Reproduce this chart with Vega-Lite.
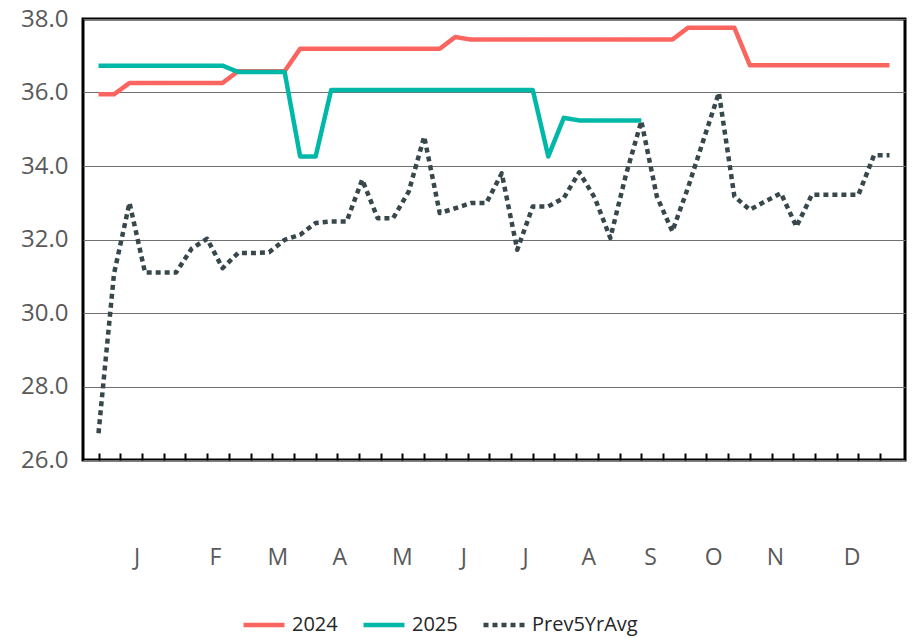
{
  "$schema": "https://vega.github.io/schema/vega-lite/v6.json",
  "width": 822,
  "height": 441,
  "autosize": {"type": "none"},
  "padding": {"left": 83, "top": 19, "right": 9, "bottom": 179},
  "background": "white",
  "config": {
    "font": "Open Sans",
    "view": {"stroke": "#000000", "strokeWidth": 3},
    "legend": {
      "orient": "none",
      "legendX": 158,
      "legendY": 583,
      "direction": "horizontal",
      "symbolType": "stroke",
      "symbolSize": 1681,
      "symbolStrokeWidth": 4.5,
      "labelFontSize": 20,
      "labelColor": "#262626",
      "labelOffset": 5,
      "columnPadding": 16,
      "title": null
    }
  },
  "data": {
    "values": [
      {"week": 1, "series": "2024", "value": 35.95},
      {"week": 2, "series": "2024", "value": 35.95},
      {"week": 3, "series": "2024", "value": 36.26},
      {"week": 4, "series": "2024", "value": 36.26},
      {"week": 5, "series": "2024", "value": 36.26},
      {"week": 6, "series": "2024", "value": 36.26},
      {"week": 7, "series": "2024", "value": 36.26},
      {"week": 8, "series": "2024", "value": 36.26},
      {"week": 9, "series": "2024", "value": 36.26},
      {"week": 10, "series": "2024", "value": 36.58},
      {"week": 11, "series": "2024", "value": 36.58},
      {"week": 12, "series": "2024", "value": 36.58},
      {"week": 13, "series": "2024", "value": 36.58},
      {"week": 14, "series": "2024", "value": 37.19},
      {"week": 15, "series": "2024", "value": 37.19},
      {"week": 16, "series": "2024", "value": 37.19},
      {"week": 17, "series": "2024", "value": 37.19},
      {"week": 18, "series": "2024", "value": 37.19},
      {"week": 19, "series": "2024", "value": 37.19},
      {"week": 20, "series": "2024", "value": 37.19},
      {"week": 21, "series": "2024", "value": 37.19},
      {"week": 22, "series": "2024", "value": 37.19},
      {"week": 23, "series": "2024", "value": 37.19},
      {"week": 24, "series": "2024", "value": 37.51},
      {"week": 25, "series": "2024", "value": 37.44},
      {"week": 26, "series": "2024", "value": 37.44},
      {"week": 27, "series": "2024", "value": 37.44},
      {"week": 28, "series": "2024", "value": 37.44},
      {"week": 29, "series": "2024", "value": 37.44},
      {"week": 30, "series": "2024", "value": 37.44},
      {"week": 31, "series": "2024", "value": 37.44},
      {"week": 32, "series": "2024", "value": 37.44},
      {"week": 33, "series": "2024", "value": 37.44},
      {"week": 34, "series": "2024", "value": 37.44},
      {"week": 35, "series": "2024", "value": 37.44},
      {"week": 36, "series": "2024", "value": 37.44},
      {"week": 37, "series": "2024", "value": 37.44},
      {"week": 38, "series": "2024", "value": 37.44},
      {"week": 39, "series": "2024", "value": 37.76},
      {"week": 40, "series": "2024", "value": 37.76},
      {"week": 41, "series": "2024", "value": 37.76},
      {"week": 42, "series": "2024", "value": 37.76},
      {"week": 43, "series": "2024", "value": 36.74},
      {"week": 44, "series": "2024", "value": 36.74},
      {"week": 45, "series": "2024", "value": 36.74},
      {"week": 46, "series": "2024", "value": 36.74},
      {"week": 47, "series": "2024", "value": 36.74},
      {"week": 48, "series": "2024", "value": 36.74},
      {"week": 49, "series": "2024", "value": 36.74},
      {"week": 50, "series": "2024", "value": 36.74},
      {"week": 51, "series": "2024", "value": 36.74},
      {"week": 52, "series": "2024", "value": 36.74},
      {"week": 1, "series": "2025", "value": 36.73},
      {"week": 2, "series": "2025", "value": 36.73},
      {"week": 3, "series": "2025", "value": 36.73},
      {"week": 4, "series": "2025", "value": 36.73},
      {"week": 5, "series": "2025", "value": 36.73},
      {"week": 6, "series": "2025", "value": 36.73},
      {"week": 7, "series": "2025", "value": 36.73},
      {"week": 8, "series": "2025", "value": 36.73},
      {"week": 9, "series": "2025", "value": 36.73},
      {"week": 10, "series": "2025", "value": 36.56},
      {"week": 11, "series": "2025", "value": 36.56},
      {"week": 12, "series": "2025", "value": 36.56},
      {"week": 13, "series": "2025", "value": 36.56},
      {"week": 14, "series": "2025", "value": 34.26},
      {"week": 15, "series": "2025", "value": 34.26},
      {"week": 16, "series": "2025", "value": 36.07},
      {"week": 17, "series": "2025", "value": 36.07},
      {"week": 18, "series": "2025", "value": 36.07},
      {"week": 19, "series": "2025", "value": 36.07},
      {"week": 20, "series": "2025", "value": 36.07},
      {"week": 21, "series": "2025", "value": 36.07},
      {"week": 22, "series": "2025", "value": 36.07},
      {"week": 23, "series": "2025", "value": 36.07},
      {"week": 24, "series": "2025", "value": 36.07},
      {"week": 25, "series": "2025", "value": 36.07},
      {"week": 26, "series": "2025", "value": 36.07},
      {"week": 27, "series": "2025", "value": 36.07},
      {"week": 28, "series": "2025", "value": 36.07},
      {"week": 29, "series": "2025", "value": 36.07},
      {"week": 30, "series": "2025", "value": 34.26},
      {"week": 31, "series": "2025", "value": 35.31},
      {"week": 32, "series": "2025", "value": 35.24},
      {"week": 33, "series": "2025", "value": 35.24},
      {"week": 34, "series": "2025", "value": 35.24},
      {"week": 35, "series": "2025", "value": 35.24},
      {"week": 36, "series": "2025", "value": 35.24},
      {"week": 1, "series": "Prev5YrAvg", "value": 26.73},
      {"week": 2, "series": "Prev5YrAvg", "value": 31.07},
      {"week": 3, "series": "Prev5YrAvg", "value": 33.0},
      {"week": 4, "series": "Prev5YrAvg", "value": 31.1},
      {"week": 5, "series": "Prev5YrAvg", "value": 31.1},
      {"week": 6, "series": "Prev5YrAvg", "value": 31.1},
      {"week": 7, "series": "Prev5YrAvg", "value": 31.75},
      {"week": 8, "series": "Prev5YrAvg", "value": 32.02},
      {"week": 9, "series": "Prev5YrAvg", "value": 31.22},
      {"week": 10, "series": "Prev5YrAvg", "value": 31.63},
      {"week": 11, "series": "Prev5YrAvg", "value": 31.63},
      {"week": 12, "series": "Prev5YrAvg", "value": 31.65},
      {"week": 13, "series": "Prev5YrAvg", "value": 31.99},
      {"week": 14, "series": "Prev5YrAvg", "value": 32.13},
      {"week": 15, "series": "Prev5YrAvg", "value": 32.45},
      {"week": 16, "series": "Prev5YrAvg", "value": 32.49},
      {"week": 17, "series": "Prev5YrAvg", "value": 32.49},
      {"week": 18, "series": "Prev5YrAvg", "value": 33.63},
      {"week": 19, "series": "Prev5YrAvg", "value": 32.58},
      {"week": 20, "series": "Prev5YrAvg", "value": 32.58},
      {"week": 21, "series": "Prev5YrAvg", "value": 33.3},
      {"week": 22, "series": "Prev5YrAvg", "value": 34.8},
      {"week": 23, "series": "Prev5YrAvg", "value": 32.72},
      {"week": 24, "series": "Prev5YrAvg", "value": 32.85},
      {"week": 25, "series": "Prev5YrAvg", "value": 32.99},
      {"week": 26, "series": "Prev5YrAvg", "value": 32.99},
      {"week": 27, "series": "Prev5YrAvg", "value": 33.8},
      {"week": 28, "series": "Prev5YrAvg", "value": 31.72},
      {"week": 29, "series": "Prev5YrAvg", "value": 32.9},
      {"week": 30, "series": "Prev5YrAvg", "value": 32.9},
      {"week": 31, "series": "Prev5YrAvg", "value": 33.13},
      {"week": 32, "series": "Prev5YrAvg", "value": 33.83},
      {"week": 33, "series": "Prev5YrAvg", "value": 33.13},
      {"week": 34, "series": "Prev5YrAvg", "value": 32.04},
      {"week": 35, "series": "Prev5YrAvg", "value": 33.75},
      {"week": 36, "series": "Prev5YrAvg", "value": 35.22},
      {"week": 37, "series": "Prev5YrAvg", "value": 33.17},
      {"week": 38, "series": "Prev5YrAvg", "value": 32.22},
      {"week": 39, "series": "Prev5YrAvg", "value": 33.4},
      {"week": 40, "series": "Prev5YrAvg", "value": 34.7},
      {"week": 41, "series": "Prev5YrAvg", "value": 35.99},
      {"week": 42, "series": "Prev5YrAvg", "value": 33.17},
      {"week": 43, "series": "Prev5YrAvg", "value": 32.81},
      {"week": 44, "series": "Prev5YrAvg", "value": 33.04},
      {"week": 45, "series": "Prev5YrAvg", "value": 33.26},
      {"week": 46, "series": "Prev5YrAvg", "value": 32.35},
      {"week": 47, "series": "Prev5YrAvg", "value": 33.22},
      {"week": 48, "series": "Prev5YrAvg", "value": 33.22},
      {"week": 49, "series": "Prev5YrAvg", "value": 33.22},
      {"week": 50, "series": "Prev5YrAvg", "value": 33.22},
      {"week": 51, "series": "Prev5YrAvg", "value": 34.29},
      {"week": 52, "series": "Prev5YrAvg", "value": 34.29}
    ]
  },
  "mark": {"type": "line", "strokeWidth": 4.5, "strokeCap": "butt", "strokeJoin": "round"},
  "encoding": {
    "x": {
      "field": "week",
      "type": "quantitative",
      "title": null,
      "scale": {"domain": [0, 53], "nice": false, "zero": false},
      "axis": {
        "values": [1, 2.4, 3.8, 5.2, 6.6, 8, 9.4, 10.8, 12.2, 13.6, 15, 16.4, 17.8, 19.2, 20.6, 22, 23.4, 24.8, 26.2, 27.6, 29, 30.4, 31.8, 33.2, 34.6, 36, 37.4, 38.8, 40.2, 41.6, 43, 44.4, 45.8, 47.2, 48.6, 50, 51.4, 3.46, 8.51, 12.53, 16.52, 20.55, 24.52, 28.5, 32.58, 36.56, 40.64, 44.62, 49.56],
        "labelExpr": "indexof([3.46, 8.51, 12.53, 16.52, 20.55, 24.52, 28.5, 32.58, 36.56, 40.64, 44.62, 49.56], datum.value) >= 0 ? ['J','F','M','A','M','J','J','A','S','O','N','D'][indexof([3.46, 8.51, 12.53, 16.52, 20.55, 24.52, 28.5, 32.58, 36.56, 40.64, 44.62, 49.56], datum.value)] : ''",
        "tickOpacity": {"condition": {"test": "indexof([3.46, 8.51, 12.53, 16.52, 20.55, 24.52, 28.5, 32.58, 36.56, 40.64, 44.62, 49.56], datum.value) >= 0", "value": 0}, "value": 1},
        "tickSize": -7,
        "tickWidth": 2,
        "tickColor": "#000000",
        "domain": false,
        "grid": false,
        "labelOverlap": false,
        "labelFlush": false,
        "labelBaseline": "middle",
        "labelPadding": 104,
        "labelFontSize": 23,
        "labelColor": "#595959"
      }
    },
    "y": {
      "field": "value",
      "type": "quantitative",
      "title": null,
      "scale": {"domain": [26, 38], "nice": false, "zero": false},
      "axis": {
        "values": [26, 28, 30, 32, 34, 36, 38],
        "format": ".1f",
        "ticks": false,
        "domain": false,
        "grid": true,
        "gridColor": "#707070",
        "gridWidth": 1,
        "labelPadding": 15,
        "labelFontSize": 24,
        "labelColor": "#595959"
      }
    },
    "color": {
      "field": "series",
      "type": "nominal",
      "title": null,
      "scale": {"domain": ["2024", "2025", "Prev5YrAvg"], "range": ["#FB6560", "#00B8A8", "#37474C"]}
    },
    "strokeDash": {
      "field": "series",
      "type": "nominal",
      "title": null,
      "scale": {"domain": ["2024", "2025", "Prev5YrAvg"], "range": [[1, 0], [1, 0], [5, 4]]}
    }
  }
}
